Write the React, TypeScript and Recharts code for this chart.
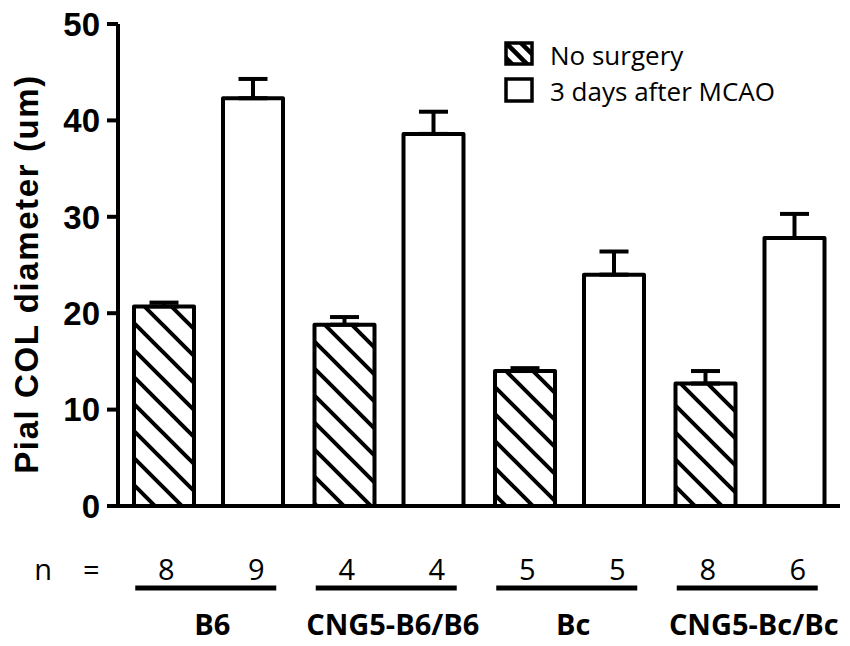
import { Bar, BarChart, ErrorBar, XAxis, YAxis } from 'recharts';

// groups along the x axis
const groups = ['B6', 'CNG5-B6/B6', 'Bc', 'CNG5-Bc/Bc'];

// Pial COL diameter (um), mean and upper SEM
const noSurgery = [20.7, 18.8, 14.0, 12.7];
const noSurgerySem = [0.4, 0.8, 0.3, 1.3];
const afterMcao = [42.3, 38.6, 24.0, 27.8];
const afterMcaoSem = [2.0, 2.3, 2.4, 2.5];

// animals per bar
const nNoSurgery = [8, 4, 5, 8];
const nAfterMcao = [9, 4, 5, 6];

const yTicks = [0, 10, 20, 30, 40, 50];
const Y_LABEL = 'Pial COL diameter (um)';
const SERIES_NAMES = ['No surgery', '3 days after MCAO'];

const data = groups.map((group, i) => ({
  group,
  noSurgery: noSurgery[i],
  noSurgeryErr: [0, noSurgerySem[i]],
  afterMcao: afterMcao[i],
  afterMcaoErr: [0, afterMcaoSem[i]],
  nNo: nNoSurgery[i],
  nMcao: nAfterMcao[i],
}));

const AXIS_FONT = '"Liberation Sans", Arial, sans-serif';
const TEXT_FONT = '"Open Sans", "Noto Sans", sans-serif';

function GroupTick(props: any) {
  const { x, y, payload } = props;
  const row = data.find((d) => d.group === payload.value);
  const first = payload.value === groups[0];
  return (
    <g fontFamily={TEXT_FONT} fill="#000">
      {first && (
        <>
          <text x={x - 165} y={y + 74} textAnchor="middle" fontSize={29}>
            n
          </text>
          <text x={x - 117} y={y + 74} textAnchor="middle" fontSize={29}>
            =
          </text>
        </>
      )}
      <text x={x - 42} y={y + 74} textAnchor="middle" fontSize={29}>
        {row?.nNo}
      </text>
      <text x={x + 48} y={y + 74} textAnchor="middle" fontSize={29}>
        {row?.nMcao}
      </text>
      <line x1={x - 73} x2={x + 68} y1={y + 82} y2={y + 82} stroke="#000" strokeWidth={5} />
      <text x={x + 4} y={y + 129} textAnchor="middle" fontSize={29} fontWeight="bold">
        {payload.value}
      </text>
    </g>
  );
}

function YTitle(props: any) {
  return (
    <text
      transform="translate(38,274) rotate(-90)"
      textAnchor="middle"
      fontFamily={AXIS_FONT}
      fontWeight="bold"
      fontSize={33}
      letterSpacing={1.6}
      fill="#000"
    >
      {props.value}
    </text>
  );
}

function Legend() {
  return (
    <svg
      width={850}
      height={120}
      style={{ position: 'absolute', left: 0, top: 0, pointerEvents: 'none' }}
    >
      <rect x={506} y={43} width={26} height={21} fill="url(#hatchSmall)" stroke="#000" strokeWidth={3.5} />
      <text x={550} y={65} fontFamily={TEXT_FONT} fontSize={26} fill="#000">
        {SERIES_NAMES[0]}
      </text>
      <rect x={506} y={79} width={26} height={22} fill="#fff" stroke="#000" strokeWidth={3.5} />
      <text x={550} y={101} fontFamily={TEXT_FONT} fontSize={26} fill="#000">
        {SERIES_NAMES[1]}
      </text>
    </svg>
  );
}

export default function App() {
  return (
    <div style={{ position: 'absolute', left: 0, top: 0, width: 850, height: 646, background: '#fff' }}>
      <svg width={0} height={0} style={{ position: 'absolute' }}>
        <defs>
          <pattern id="hatch" patternUnits="userSpaceOnUse" width={27} height={27}>
            <rect width={27} height={27} fill="#fff" />
            <path d="M-2,-2 L29,29 M-2,25 L2,29 M25,-2 L29,2" stroke="#000" strokeWidth={4} />
          </pattern>
          <pattern id="hatchSmall" patternUnits="userSpaceOnUse" x={506} y={43} width={15} height={15}>
            <rect width={15} height={15} fill="#fff" />
            <path d="M-2,-2 L17,17 M-2,13 L2,17 M13,-2 L17,2" stroke="#000" strokeWidth={4.5} />
          </pattern>
        </defs>
      </svg>
      <BarChart
        width={850}
        height={646}
        data={data}
        margin={{ top: 24, right: 10, bottom: 0, left: 38 }}
        barSize={60}
        barGap={29}
      >
        <XAxis
          dataKey="group"
          height={140}
          axisLine={{ stroke: '#000', strokeWidth: 4 }}
          tickLine={false}
          tickSize={0}
          tickMargin={0}
          tick={GroupTick}
          interval={0}
        />
        <YAxis
          width={80}
          domain={[0, 50]}
          ticks={yTicks}
          interval={0}
          axisLine={{ stroke: '#000', strokeWidth: 4 }}
          tickLine={{ stroke: '#000', strokeWidth: 4 }}
          tickSize={11}
          tickMargin={7}
          tick={{ fill: '#000', fontFamily: AXIS_FONT, fontWeight: 'bold', fontSize: 33 }}
          label={{ value: Y_LABEL, content: YTitle }}
        />
        <Bar
          dataKey="noSurgery"
          name={SERIES_NAMES[0]}
          fill="url(#hatch)"
          stroke="#000"
          strokeWidth={4}
          strokeLinejoin="round"
          isAnimationActive={false}
        >
          <ErrorBar dataKey="noSurgeryErr" width={14.5} stroke="#000" strokeWidth={4} direction="y" />
        </Bar>
        <Bar
          dataKey="afterMcao"
          name={SERIES_NAMES[1]}
          fill="#fff"
          stroke="#000"
          strokeWidth={4}
          strokeLinejoin="round"
          isAnimationActive={false}
        >
          <ErrorBar dataKey="afterMcaoErr" width={14.5} stroke="#000" strokeWidth={4} direction="y" />
        </Bar>
      </BarChart>
      <Legend />
    </div>
  );
}
